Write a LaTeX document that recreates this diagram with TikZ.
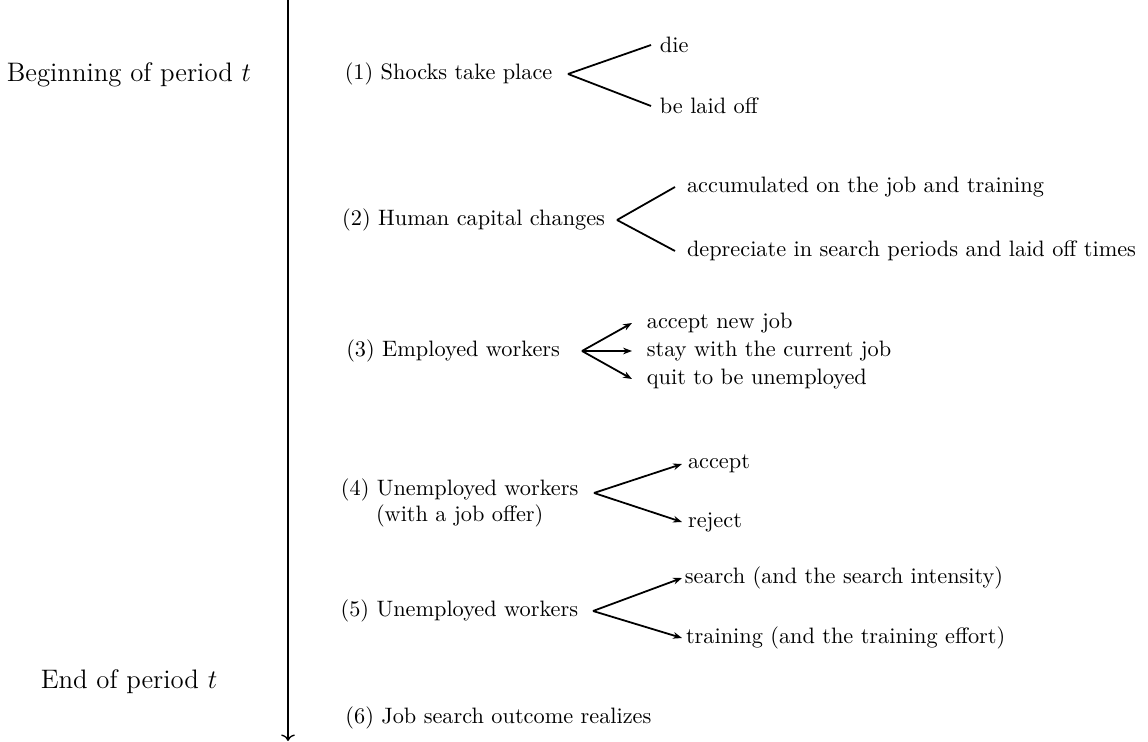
\documentclass[tikz,border=0pt]{standalone}
\usetikzlibrary{arrows.meta}
\begin{document}
\begin{tikzpicture}[x=0.01576cm, y=-0.01576cm]
		\tikzstyle{every node}=[inner sep=0pt]
		\tikzstyle{stage}=[anchor=east, outer xsep=7pt]
		\tikzstyle{branch}=[anchor=west, outer xsep=4pt]
		\tikzstyle{period}=[font=\large]
		\tikzstyle{split}=[thick]
		\tikzstyle{choice}=[thick, -{Stealth[length=4pt, width=3pt]}]
		\useasboundingbox (0,0) rectangle (1148,742);
		% time axis
		\coordinate (axtop) at (288,0);
		\coordinate (axbot) at (288,741);
		\draw[semithick, ->] (axtop) -- (axbot);
		\node (begin) [period] at (129,75) {Beginning of period $t$};
		\node (end) [period] at (129,682) {End of period $t$};
		% (1)
		\node (shock) [stage] at (568,74) {(1) Shocks take place};
		\node (die) [branch] at (651,45) {die};
		\node (laid) [branch] at (651,106) {be laid off};
		\draw[split] (shock.east) -- (die.west);
		\draw[split] (shock.east) -- (laid.west);
		% (2)
		\node (human) [stage, outer xsep=5.4pt] at (617,220) {(2) Human capital changes};
		\node (accum) [branch, outer xsep=5.4pt] at (675,187) {accumulated on the job and training};
		\node (deprec) [branch, outer xsep=5.4pt] at (675,251) {depreciate in search periods and laid off times};
		\draw[split] (human.east) -- (accum.west);
		\draw[split] (human.east) -- (deprec.west);
		% (3)
		\node (emp) [stage, outer xsep=9.9pt] at (582,351) {(3) Employed workers};
		\node (newjob) [branch, outer xsep=6.7pt] at (632,323) {accept new job};
		\node (stay) [branch, outer xsep=6.7pt] at (632,351) {stay with the current job};
		\node (quit) [branch, outer xsep=6.7pt] at (632,379) {quit to be unemployed};
		\draw[choice] (emp.east) -- (newjob.west);
		\draw[choice] (emp.east) -- (stay.west);
		\draw[choice] (emp.east) -- (quit.west);
		% (4)
		\node (offer) [stage, align=center] at (594,503) {(4) Unemployed workers\\(with a job offer)};
		\node (accept) [branch, outer xsep=2.7pt] at (682,464) {accept};
		\node (reject) [branch, outer xsep=2.7pt] at (682,522) {reject};
		\draw[choice] ([yshift=4.5pt]offer.east) -- (accept.west);
		\draw[choice] ([yshift=4.5pt]offer.east) -- (reject.west);
		% (5)
		\node (unemp) [stage, outer xsep=6.7pt] at (593,611) {(5) Unemployed workers};
		\node (search) [branch, outer xsep=1.3pt] at (682,578) {search (and the search intensity)};
		\node (train) [branch, outer xsep=1.8pt] at (682,638) {training (and the training effort)};
		\draw[choice] (unemp.east) -- (search.west);
		\draw[choice] (unemp.east) -- (train.west);
		% (6)
		\node (outcome) [anchor=west] at (345,718) {(6) Job search outcome realizes};
\end{tikzpicture}
\end{document}
